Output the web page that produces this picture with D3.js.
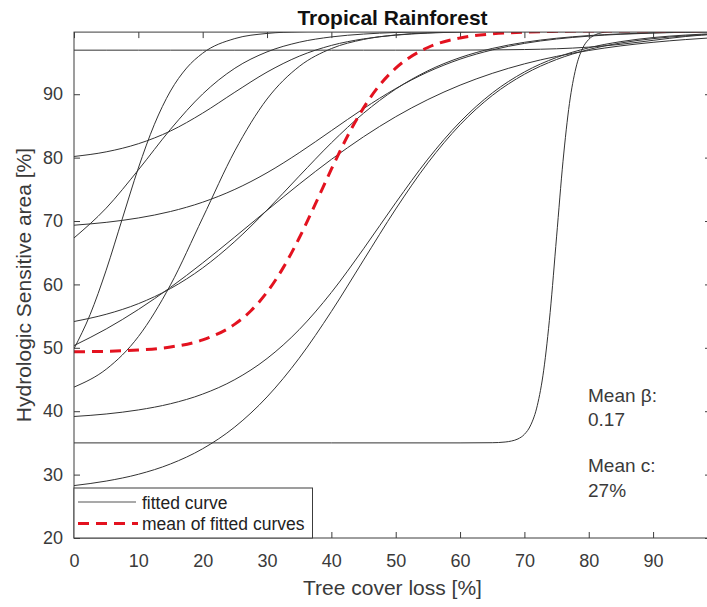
<!DOCTYPE html>
<html>
<head>
<meta charset="utf-8">
<script src="https://cdn.jsdelivr.net/npm/d3@7"></script>
<style>
  html, body { margin: 0; padding: 0; background: #fff; }
  svg { display: block; font-family: "Liberation Sans", Arial, sans-serif; }
</style>
</head>
<body>
<svg id="chart" width="707" height="607"></svg>
<script>
// Tree cover loss [%] at which the fitted curves are tabulated
const lossGrid = [0, 5, 10, 15, 20, 25, 30, 35, 40, 45, 50, 55, 60, 65, 70, 75, 80, 85, 90, 95, 100];
const lossGridSteep = [0, 2.5, 5, 7.5, 10, 12.5, 15, 17.5, 20, 25, 30, 35, 40, 50, 60, 70, 80, 90, 100];
const lossGridThreshold = [0, 20, 40, 60, 65, 67, 68, 69, 70, 71, 72, 73, 74, 75, 76, 77, 78, 79, 80, 81, 82, 84, 87, 90, 95, 100];
const lossGridMean = [0, 5, 10, 15, 20, 25, 27.5, 30, 32.5, 35, 37.5, 40, 42.5, 45, 47.5, 50, 55, 60, 65, 70, 75, 80, 90, 100];

// Hydrologic sensitive area [%] of each fitted curve
const fitStart97 = [96.95, 96.95, 96.95, 96.95, 96.95, 96.95, 96.95, 96.95, 96.95, 96.95, 96.95, 96.95, 96.96, 96.99, 97.05, 97.17, 97.43, 97.88, 98.5, 99.1, 99.5];
const fitStart80 = [80.18, 80.91, 82.19, 84.2, 87.02, 90.32, 93.49, 96.0, 97.7, 98.73, 99.32, 99.64, 99.81, 99.9, 99.95, 99.97, 99.98, 99.99, 99.99, 100, 100];
const fitStart69 = [69.34, 69.79, 70.48, 71.5, 72.97, 74.99, 77.61, 80.77, 84.25, 87.73, 90.89, 93.51, 95.53, 96.99, 98.02, 98.71, 99.16, 99.46, 99.65, 99.78, 99.86];
const fitStart67 = [67.33, 72.03, 78.06, 84.47, 90.04, 94.1, 96.68, 98.2, 99.04, 99.49, 99.74, 99.86, 99.93, 99.96, 99.98, 99.99, 99.99, 100, 100, 100, 100];
const fitStart54 = [54.15, 55.29, 56.96, 59.35, 62.6, 66.78, 71.73, 77.08, 82.33, 87.0, 90.81, 93.7, 95.78, 97.22, 98.19, 98.83, 99.25, 99.52, 99.69, 99.8, 99.87];
const fitStart50 = [50.35, 52.97, 56.04, 59.54, 63.39, 67.49, 71.68, 75.81, 79.72, 83.29, 86.45, 89.16, 91.43, 93.29, 94.79, 95.97, 96.9, 97.63, 98.19, 98.62, 98.96];
const fitStart44 = [43.8, 46.62, 51.76, 59.93, 70.5, 81.07, 89.24, 94.38, 97.2, 98.64, 99.35, 99.69, 99.85, 99.93, 99.97, 99.99, 99.99, 100, 100, 100, 100];
const fitStart39 = [39.17, 39.56, 40.2, 41.18, 42.7, 44.99, 48.31, 52.87, 58.73, 65.62, 72.88, 79.77, 85.63, 90.19, 93.51, 95.8, 97.32, 98.3, 98.94, 99.33, 99.58];
const fitStart28 = [28.27, 28.98, 30.05, 31.68, 34.08, 37.52, 42.25, 48.37, 55.73, 63.83, 71.89, 79.17, 85.18, 89.8, 93.15, 95.48, 97.05, 98.09, 98.77, 99.21, 99.5];
const fitSteep50 = [49.85, 55.23, 62.25, 70.33, 78.35, 85.26, 90.51, 94.13, 96.47, 98.78, 99.59, 99.86, 99.95, 99.99, 100, 100, 100, 100, 100];
const fitThreshold35 = [35, 35, 35, 35, 35.03, 35.14, 35.3, 35.63, 36.35, 37.85, 40.87, 46.47, 55.57, 67.5, 79.43, 88.53, 94.13, 97.15, 98.65, 99.37, 99.7, 99.94, 99.99, 100, 100, 100];
const meanOfFits = [49.36, 49.45, 49.65, 50.13, 51.25, 53.74, 55.85, 58.78, 62.61, 67.32, 72.66, 78.17, 83.37, 87.85, 91.43, 94.11, 97.37, 98.87, 99.52, 99.8, 99.92, 99.97, 99.99, 100];

const xTicks = [0, 10, 20, 30, 40, 50, 60, 70, 80, 90];
const yTicks = [20, 30, 40, 50, 60, 70, 80, 90];
const meanBeta = "0.17";
const meanC = "27%";

const fittedCurves = [
  [lossGrid, fitStart97],
  [lossGrid, fitStart80],
  [lossGrid, fitStart69],
  [lossGrid, fitStart67],
  [lossGrid, fitStart54],
  [lossGrid, fitStart50],
  [lossGrid, fitStart44],
  [lossGrid, fitStart39],
  [lossGrid, fitStart28],
  [lossGridSteep, fitSteep50],
  [lossGridThreshold, fitThreshold35]
];

const svg = d3.select("#chart");
const plotLeft = 74, plotRight = 711, plotTop = 32.1, plotBottom = 538;
const x = d3.scaleLinear().domain([0, 99]).range([plotLeft, plotRight]);
const y = d3.scaleLinear().domain([20, 99.8]).range([plotBottom, plotTop]);

const axisColor = "#3c3c3c";
const textColor = "#3a3a3a";

svg.append("defs").append("clipPath").attr("id", "plotClip")
  .append("rect").attr("x", plotLeft).attr("y", plotTop)
  .attr("width", plotRight - plotLeft).attr("height", plotBottom - plotTop);

// Axes with inward ticks on all four sides
function styleAxis(g) {
  g.select(".domain").remove();
  g.selectAll(".tick line").attr("stroke", axisColor);
  g.selectAll(".tick text").attr("fill", textColor).style("font-size", "18px")
    .style("font-family", "'Liberation Sans', Arial, sans-serif");
}
svg.append("g").attr("transform", `translate(0,${plotBottom})`)
  .call(d3.axisBottom(x).tickValues(xTicks).tickSizeInner(-6).tickSizeOuter(0).tickPadding(16))
  .call(styleAxis);
svg.append("g").attr("transform", `translate(0,${plotTop})`)
  .call(d3.axisTop(x).tickValues(xTicks).tickSizeInner(-6).tickSizeOuter(0).tickFormat(""))
  .call(styleAxis);
svg.append("g").attr("transform", `translate(${plotLeft},0)`)
  .call(d3.axisLeft(y).tickValues(yTicks).tickSizeInner(-6).tickSizeOuter(0).tickPadding(11))
  .call(styleAxis);
svg.append("g").attr("transform", `translate(${plotRight},0)`)
  .call(d3.axisRight(y).tickValues(yTicks).tickSizeInner(-6).tickSizeOuter(0).tickFormat(""))
  .call(styleAxis);

// Fitted curves
const line = d3.line().curve(d3.curveMonotoneX);
const plot = svg.append("g").attr("clip-path", "url(#plotClip)");
plot.selectAll("path.fit").data(fittedCurves).join("path")
  .attr("class", "fit")
  .attr("fill", "none")
  .attr("stroke", "#333")
  .attr("stroke-width", 1)
  .attr("d", ([xs, ys]) => line(xs.map((v, i) => [x(v), y(ys[i])])));

// Mean of the fitted curves
plot.append("path")
  .attr("fill", "none")
  .attr("stroke", "#e3121f")
  .attr("stroke-width", 3)
  .attr("stroke-dasharray", "11,7")
  .attr("d", line(lossGridMean.map((v, i) => [x(v), y(meanOfFits[i])])));

// Box
svg.append("rect")
  .attr("x", plotLeft).attr("y", plotTop)
  .attr("width", plotRight - plotLeft).attr("height", plotBottom - plotTop)
  .attr("fill", "none").attr("stroke", axisColor).attr("stroke-width", 1);

// Title and axis labels
svg.append("text").attr("x", (plotLeft + plotRight) / 2).attr("y", 25)
  .attr("text-anchor", "middle").attr("font-weight", "bold")
  .style("font-size", "21px").attr("fill", "#111").text("Tropical Rainforest");
svg.append("text").attr("x", (plotLeft + plotRight) / 2).attr("y", 595)
  .attr("text-anchor", "middle").style("font-size", "21px").attr("fill", textColor)
  .text("Tree cover loss [%]");
svg.append("text")
  .attr("transform", `translate(31,${(plotTop + plotBottom) / 2}) rotate(-90)`)
  .attr("text-anchor", "middle").style("font-size", "21px").attr("fill", textColor)
  .text("Hydrologic Sensitive area [%]");

// Legend
const legend = svg.append("g");
legend.append("rect").attr("x", plotLeft).attr("y", 488)
  .attr("width", 312.5 - plotLeft).attr("height", plotBottom - 488)
  .attr("fill", "#fff").attr("stroke", axisColor).attr("stroke-width", 1);
legend.append("line").attr("x1", 78).attr("x2", 136).attr("y1", 502).attr("y2", 502)
  .attr("stroke", "#555").attr("stroke-width", 1.2);
legend.append("line").attr("x1", 78).attr("x2", 138).attr("y1", 523.5).attr("y2", 523.5)
  .attr("stroke", "#e3121f").attr("stroke-width", 3).attr("stroke-dasharray", "11,7");
legend.append("text").attr("x", 142).attr("y", 508.5).style("font-size", "17.5px")
  .attr("fill", "#222").text("fitted curve");
legend.append("text").attr("x", 142).attr("y", 530).style("font-size", "17.5px")
  .attr("fill", "#222").text("mean of fitted curves");

// Mean parameters of the fits
const notes = [["Mean \u03b2:", 402], [meanBeta, 426], ["Mean c:", 472], [meanC, 497]];
svg.selectAll("text.note").data(notes).join("text")
  .attr("class", "note").attr("x", 588).attr("y", d => d[1])
  .style("font-size", "19px").attr("fill", textColor).text(d => d[0]);
</script>
</body>
</html>
